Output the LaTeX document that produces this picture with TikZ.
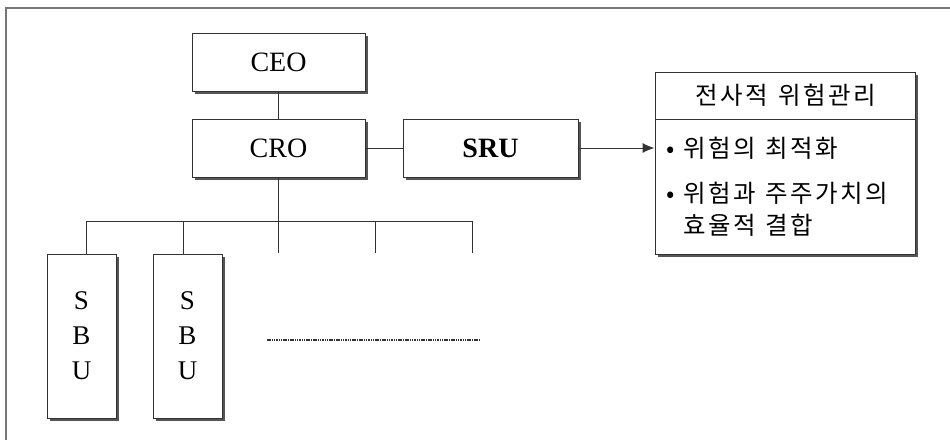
\documentclass[tikz,border=0pt]{standalone}
\usepackage{fontspec}
\setmainfont{Liberation Serif}
\newfontfamily\kofont[LetterSpace=10]{Noto Sans CJK KR}
\usetikzlibrary{shadows,arrows.meta}
\definecolor{boxline}{HTML}{333333}
\definecolor{frameline}{HTML}{777777}
\definecolor{shadowc}{HTML}{555555}
\newcommand{\ks}{\hspace{10pt}}
\tikzset{
  orgbox/.style={draw=boxline, line width=1pt, fill=white, inner sep=0pt,
    drop shadow={shadow xshift=3pt, shadow yshift=-3pt, fill=shadowc, opacity=1}},
  link/.style={draw=boxline, line width=1pt},
  latin/.style={font=\fontsize{28}{30}\selectfont},
  sbutext/.style={font=\fontsize{27}{35}\selectfont, align=center},
  kotext/.style={font=\kofont\fontsize{24.5}{28}\selectfont, inner sep=0pt, anchor=west}
}
\begin{document}
\begin{tikzpicture}[x=1pt,y=-1pt]
\useasboundingbox (0,0) rectangle (950,440);
\fill[white] (0,0) rectangle (950,440);
% frame (top and left only)
\draw[frameline, line width=1.5pt] (6,440) -- (6,8) -- (950,8);

% boxes
\node[orgbox, latin, minimum width=173pt, minimum height=58pt] (ceo) at (278.5,62) {CEO};
\node[orgbox, latin, minimum width=173pt, minimum height=58pt] (cro) at (278.5,148) {CRO};
\node[orgbox, font=\fontsize{28}{30}\selectfont\bfseries, minimum width=175pt, minimum height=58pt] (sru) at (490.5,148) {SRU};
\node[orgbox, minimum width=260pt, minimum height=182pt] (rbox) at (785,163) {};
\node[orgbox, sbutext, minimum width=69pt, minimum height=164pt] (sbu1) at (81.5,336) {S\\B\\U};
\node[orgbox, sbutext, minimum width=69pt, minimum height=164pt] (sbu2) at (187.5,336) {S\\B\\U};

% right box content
\draw[link] (rbox.west |- 0,119) -- (rbox.east |- 0,119);
\node[kotext, anchor=center] (title) at (786,95) {전사적\ks 위험관리};
\node[kotext] (b1) at (666,148) {\makebox[17pt][l]{•}위험의\ks 최적화};
\node[kotext] (b2) at (666,193) {\makebox[17pt][l]{•}위험과\ks 주주가치의};
\node[kotext] (b3) at (683,225) {효율적\ks 결합};

% connectors
\draw[link] (ceo.south) -- (cro.north);
\draw[link] (cro.east) -- (sru.west);
\draw[link, -{Latex[length=12pt,width=10pt]}] (sru.east) -- (rbox.west |- sru.east);

\coordinate (bus) at (278.5,221);
\coordinate (p1) at (86,221);
\coordinate (p2) at (183,221);
\coordinate (p4) at (375,221);
\coordinate (p5) at (472,221);
\draw[link] (cro.south) -- (bus);
\draw[link] (p1) -- (p5);
\draw[link] (p1) -- (p1 |- sbu1.north);
\draw[link] (p2) -- (p2 |- sbu2.north);
\draw[link] (bus) -- ++(0,32);
\draw[link] (p4) -- ++(0,32);
\draw[link] (p5) -- ++(0,32);

% dotted line
\coordinate (d1) at (267,340);
\coordinate (d2) at (480,340);
\draw[boxline, line width=1.2pt, dash pattern=on 1.5pt off 0.8pt] (d1) -- (d2);
\end{tikzpicture}
\end{document}
